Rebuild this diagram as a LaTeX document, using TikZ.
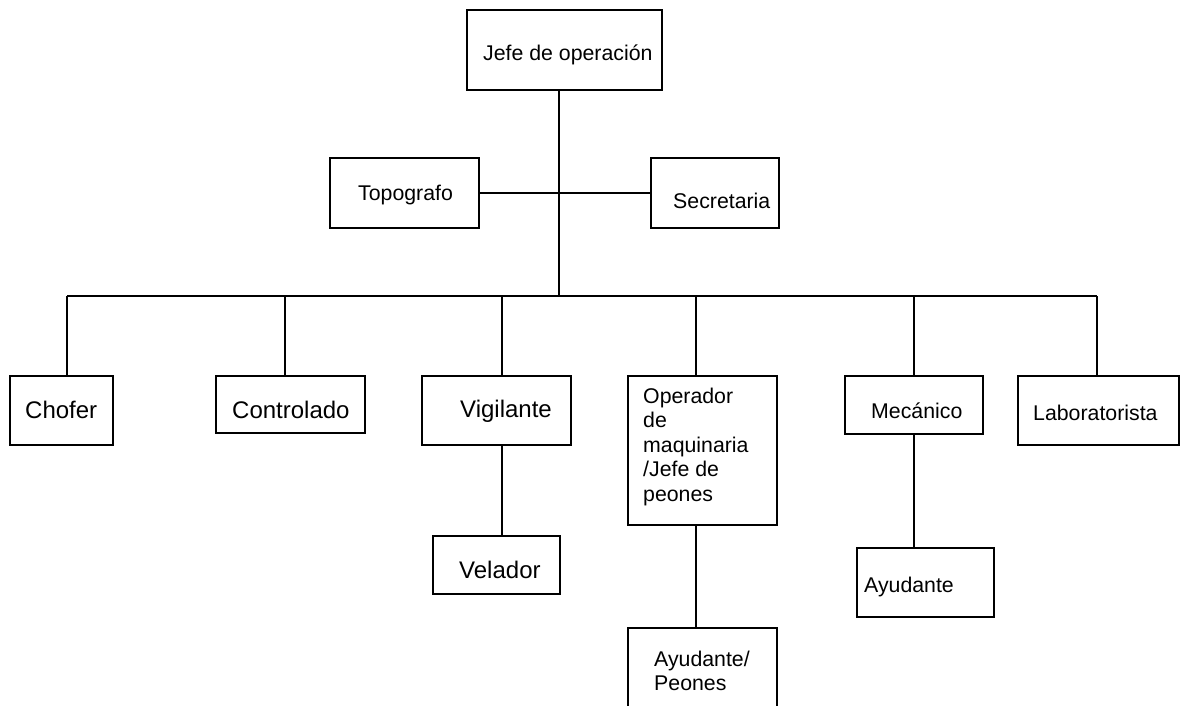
\documentclass[tikz,border=0pt]{standalone}
\usepackage{fontspec}
\setmainfont{Liberation Sans}
\begin{document}
\begin{tikzpicture}[x=1pt,y=-1pt,
  box/.style={draw=black,line width=1.4pt,rectangle,inner sep=0pt,fill=none},
  lbl/.style={anchor=base west,inner sep=0pt,font=\fontsize{21.3}{24.5}\selectfont,align=left},
  biglbl/.style={lbl,font=\fontsize{24}{27}\selectfont},
  link/.style={draw=black,line width=1.4pt}]
\clip (0,0) rectangle (1180,706);
\fill[white] (0,0) rectangle (1180,706);

% boxes
\node[box,minimum width=195pt,minimum height=80pt] (jefe) at (564.5,50) {};
\node[box,minimum width=149pt,minimum height=70pt] (topo) at (404.5,193) {};
\node[box,minimum width=128pt,minimum height=70pt] (secr) at (715,193) {};
\node[box,minimum width=103pt,minimum height=69pt] (chofer) at (61.5,410.5) {};
\node[box,minimum width=149pt,minimum height=57pt] (contr) at (290.5,404.5) {};
\node[box,minimum width=149pt,minimum height=69pt] (vigil) at (496.5,410.5) {};
\node[box,minimum width=149pt,minimum height=149pt] (oper) at (702.5,450.5) {};
\node[box,minimum width=138pt,minimum height=58pt] (mec) at (914,405) {};
\node[box,minimum width=161pt,minimum height=69pt] (lab) at (1098.5,410.5) {};
\node[box,minimum width=127pt,minimum height=58pt] (velador) at (496.5,565) {};
\node[box,minimum width=137pt,minimum height=69pt] (ayud) at (925.5,582.5) {};
\node[box,minimum width=149pt,minimum height=112pt] (aypeon) at (702.5,684) {};

% labels (multi-line labels are placed by the baseline of their last line)
\node[lbl] (tjefe) at (483,61) {Jefe de operación};
\node[lbl] (ttopo) at (358,200) {Topografo};
\node[lbl] (tsecr) at (673,208) {Secretaria};
\node[biglbl] (tchofer) at (25,418) {Chofer};
\node[biglbl] (tcontr) at (232,418) {Controlado};
\node[biglbl] (tvigil) at (460,417) {Vigilante};
\node[lbl] (toper) at (643,501) {Operador\\de\\maquinaria\\/Jefe de\\peones};
\node[lbl] (tmec) at (871,418) {Mecánico};
\node[lbl] (tlab) at (1033,420) {Laboratorista};
\node[biglbl] (tvelador) at (459,578) {Velador};
\node[lbl] (tayud) at (864,592) {Ayudante};
\node[lbl,font=\fontsize{21.3}{23.5}\selectfont] (taypeon) at (654,690) {Ayudante/\\Peones};

% branch points on the horizontal bus
\coordinate (hub) at (559,296);
\coordinate (busL) at (67,296);
\coordinate (busR) at (1097,296);
\coordinate (tContr) at (285,296);
\coordinate (tVig) at (502,296);
\coordinate (tOper) at (696,296);
\coordinate (tMec) at (914,296);

% connectors
\draw[link] (hub |- jefe.south) -- (hub);
\draw[link] (topo.east) -- (secr.west);
\draw[link] (busL) -- (busR);
\draw[link] (busL) -- (busL |- chofer.north);
\draw[link] (tContr) -- (tContr |- contr.north);
\draw[link] (tVig) -- (tVig |- vigil.north);
\draw[link] (tOper) -- (tOper |- oper.north);
\draw[link] (tMec) -- (tMec |- mec.north);
\draw[link] (busR) -- (busR |- lab.north);
\draw[link] (tVig |- vigil.south) -- (tVig |- velador.north);
\draw[link] (tOper |- oper.south) -- (tOper |- aypeon.north);
\draw[link] (mec.south) -- (mec.south |- ayud.north);
\end{tikzpicture}
\end{document}
